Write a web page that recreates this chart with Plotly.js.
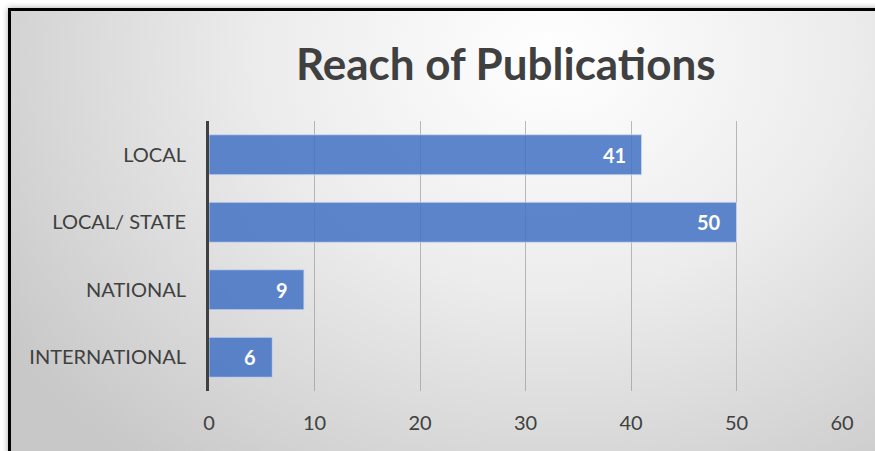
<!DOCTYPE html>
<html>
<head>
<meta charset="utf-8">
<script src="https://cdn.plot.ly/plotly-3.0.1.min.js"></script>
<style>
  html, body { margin: 0; padding: 0; width: 875px; height: 451px; overflow: hidden; background: #ffffff; }
  #frame {
    position: absolute; left: 8px; top: 8px; width: 880px; height: 460px;
    box-sizing: border-box; border: 3px solid #000;
    background: radial-gradient(ellipse 75% 115% at 62% 10%, #ffffff 0%, #ececec 45%, #c8c8c8 100%);
    box-shadow: 0 0 6px rgba(0,0,0,0.35);
  }
  #chart { position: absolute; left: 0; top: 0; width: 875px; height: 451px; }
</style>
</head>
<body>
<div id="frame"></div>
<div id="chart"></div>
<script>
const categories = ["LOCAL", "LOCAL/ STATE", "NATIONAL", "INTERNATIONAL"];
const values = [41, 50, 9, 6];
const xTicks = [0, 10, 20, 30, 40, 50, 60];

const FONT = "Lato, 'Open Sans', sans-serif";

const trace = {
  type: "bar",
  orientation: "h",
  y: categories,
  x: values,
  marker: { color: "rgba(68,114,196,0.86)", line: { color: "rgba(205,218,240,0.8)", width: 1 } },
  hoverinfo: "none"
};

const annotations = categories.map((c, i) => ({
  x: values[i], y: c, xref: "x", yref: "y",
  text: "<b>" + values[i] + "</b>",
  showarrow: false, xanchor: "right", yanchor: "middle", xshift: -14,
  font: { family: FONT, size: 20, color: "#ffffff" }
}));

const layout = {
  width: 875, height: 451,
  margin: { l: 209, r: 33, t: 121, b: 60, pad: 0 },
  paper_bgcolor: "rgba(0,0,0,0)",
  plot_bgcolor: "rgba(0,0,0,0)",
  showlegend: false,
  bargap: 0.407,
  title: {
    text: "<b>Reach of Publications</b>",
    font: { family: FONT, size: 44, color: "#404040" },
    x: 0.578, xref: "container", xanchor: "center",
    y: 1 - 65 / 451, yref: "container", yanchor: "middle"
  },
  xaxis: {
    range: [0, 60], tickvals: xTicks, ticktext: xTicks.map(String),
    showgrid: true, gridcolor: "rgba(150,150,150,0.65)", gridwidth: 1,
    zeroline: false, showline: false, ticks: "",
    ticklabelstandoff: 18,
    tickfont: { family: FONT, size: 20, color: "#404040" },
    fixedrange: true
  },
  yaxis: {
    autorange: "reversed", type: "category",
    showgrid: false, zeroline: false,
    showline: true, linecolor: "#404040", linewidth: 3,
    ticks: "", ticklabelstandoff: 16,
    tickfont: { family: FONT, size: 20, color: "#404040" },
    fixedrange: true
  },
  annotations: annotations
};

Plotly.newPlot("chart", [trace], layout, { displayModeBar: false, staticPlot: true });
</script>
</body>
</html>
